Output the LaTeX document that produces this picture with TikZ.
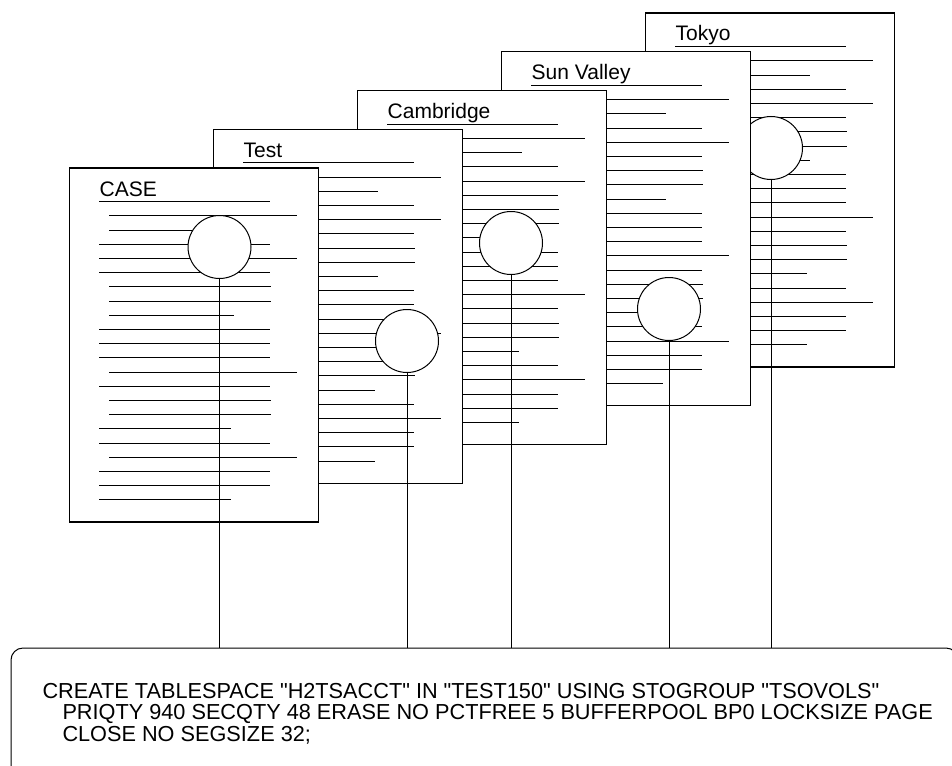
\documentclass[tikz,border=0pt]{standalone}
\usepackage{fontspec}
\setmainfont{Liberation Sans}[Ligatures=TeXOff]
\usetikzlibrary{positioning}

\tikzset{
  docpage/.style={draw, fill=white, line width=1.2pt, minimum width=249pt, minimum height=354pt, inner sep=0, outer sep=0, anchor=north west},
  textline/.style={line width=1pt},
  lookup/.style={circle, draw, fill=white, line width=1pt, minimum size=63pt, inner sep=0, outer sep=0},
  pagetitle/.style={anchor=base west, inner sep=0, font=\fontsize{21}{24}\selectfont},
  connector/.style={line width=1pt},
  sqlbox/.style={draw, line width=1pt, rounded corners=12pt, minimum width=947pt, minimum height=160pt, inner sep=0, outer sep=0, anchor=north west},
  sqltext/.style={align=left, inner sep=0, anchor=north west, font=\fontsize{21.7}{21.7}\selectfont}
}

\begin{document}
\begin{tikzpicture}[x=1pt, y=-1pt]
\useasboundingbox (0,0) rectangle (952,765);
\clip (0,0) rectangle (952,765);

% pages, back to front
\foreach \pg/\ttl/\px/\py/\cx/\cy in {tokyo/Tokyo/645.5/13/771/148, sunvalley/Sun Valley/501.5/51.75/669/309, cambridge/Cambridge/357.5/90.5/511/243, test/Test/213.5/129.25/407/341, case/CASE/69.5/168/219.5/247}
{
  \node[docpage] (\pg) at (\px,\py) {};
  \foreach \ls/\le [count=\k] in {29.8/200.5, 39.8/227.8, 39.8/164.5, 29.8/200.5, 29.8/227.8, 29.8/200.5, 39.8/201.8, 39.8/201.8, 39.8/164.5, 29.8/200.5, 29.8/200.5, 29.8/200.5, 39.8/227.8, 29.8/200.5, 39.8/201.8, 39.8/201.8, 29.8/161.2, 29.8/200.5, 39.8/227.8, 29.8/200.5, 29.8/200.5, 29.8/161.2}
    \draw[textline] ({\px+\ls},{\py+33.7+14.2*(\k-1)}) -- ({\px+\le},{\py+33.7+14.2*(\k-1)});
  \node[pagetitle] (\pg-title) at (\px+30,\py+28) {\ttl};
  \node[lookup] (\pg-key) at (\cx,\cy) {};
}

% statement
\node[sqlbox] (sqlbox) at (11,648) {};
\node[sqltext] (sql) at (42.3,682.7) {CREATE TABLESPACE "H2TSACCT" IN "TEST150" USING STOGROUP "TSOVOLS"\\
\hspace*{20pt}PRIQTY 940 SECQTY 48 ERASE NO PCTFREE 5 BUFFERPOOL BP0 LOCKSIZE PAGE\\
\hspace*{20pt}CLOSE NO SEGSIZE 32;};

\foreach \pg in {case,test,cambridge,sunvalley,tokyo}
  \draw[connector] (\pg-key.south) -- (\pg-key.south |- sqlbox.north);
\end{tikzpicture}
\end{document}
